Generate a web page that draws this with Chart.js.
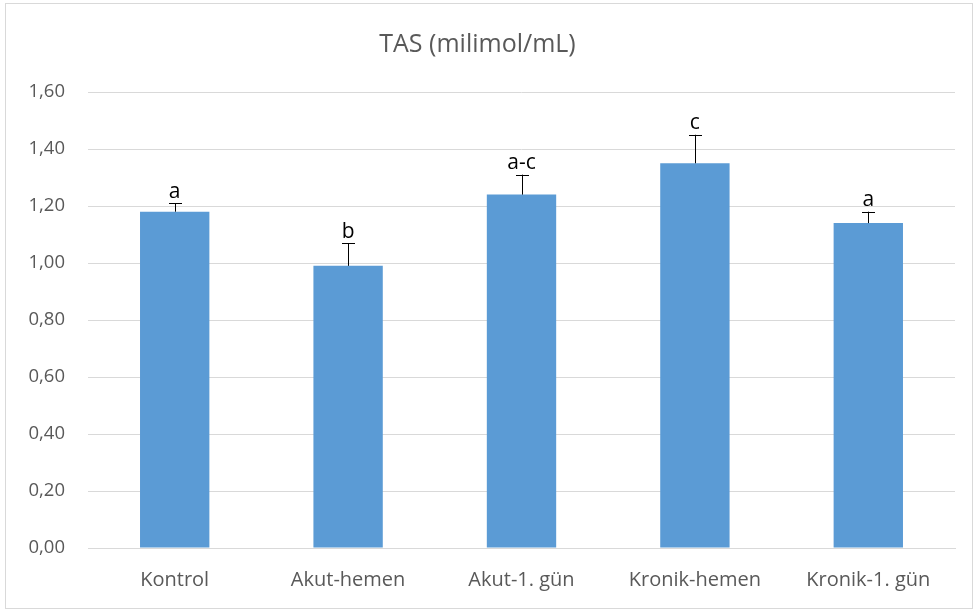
<!DOCTYPE html>
<html lang="tr">
  <head>
    <meta charset="UTF-8" />
    <title>TAS (milimol/mL)</title>
    <script src="https://cdn.jsdelivr.net/npm/chart.js@4.4.1/dist/chart.umd.min.js"></script>
    <style>
      html, body { margin: 0; padding: 0; background: #fff; }
      #wrap { width: 974px; height: 610px; }
    </style>
  </head>
  <body>
    <div id="wrap"><canvas id="myChart" width="974" height="610"></canvas></div>

    <script>
      // data
      const groups = ["Kontrol", "Akut-hemen", "Akut-1. gün", "Kronik-hemen", "Kronik-1. gün"];
      const tasMeans = [1.18, 0.99, 1.24, 1.35, 1.14];
      const tasErrors = [0.03, 0.08, 0.07, 0.10, 0.04];
      const sigLetters = ["a", "b", "a-c", "c", "a"];

      const fontFamily = "'Open Sans', 'Noto Sans', sans-serif";

      // error bars (upper only) and letters above them
      const errorBarPlugin = {
        id: "errorBars",
        afterDatasetsDraw(chart) {
          const ctx = chart.ctx;
          const y = chart.scales.y;
          const meta = chart.getDatasetMeta(0);
          ctx.save();
          meta.data.forEach((bar, i) => {
            const top = y.getPixelForValue(tasMeans[i] + tasErrors[i]);
            const base = y.getPixelForValue(tasMeans[i]);
            ctx.strokeStyle = "#000";
            ctx.lineWidth = 1;
            ctx.beginPath();
            ctx.moveTo(Math.round(bar.x) + 0.5, base);
            ctx.lineTo(Math.round(bar.x) + 0.5, top);
            ctx.moveTo(Math.round(bar.x) - 6, Math.round(top) + 0.5);
            ctx.lineTo(Math.round(bar.x) + 7, Math.round(top) + 0.5);
            ctx.stroke();
            ctx.fillStyle = "#000";
            ctx.font = "21px " + fontFamily;
            ctx.textAlign = "center";
            ctx.textBaseline = "bottom";
            ctx.fillText(sigLetters[i], bar.x, top - 1);
          });
          ctx.restore();
        },
        afterDraw(chart) {
          const ctx = chart.ctx;
          ctx.save();
          ctx.strokeStyle = "#d9d9d9";
          ctx.lineWidth = 1;
          ctx.strokeRect(5.5, 3.5, 967, 605);
          ctx.restore();
        }
      };

      const ctx = document.getElementById("myChart").getContext("2d");
      new Chart(ctx, {
        type: "bar",
        data: {
          labels: groups,
          datasets: [
            {
              label: "TAS",
              data: tasMeans,
              backgroundColor: "#5B9BD5",
              borderWidth: 0,
              barPercentage: 0.4,
              categoryPercentage: 1.0
            }
          ]
        },
        options: {
          responsive: false,
          animation: false,
          layout: { padding: { left: 0, right: 19, top: 0, bottom: 0 } },
          plugins: {
            legend: { display: false },
            tooltip: { enabled: false },
            title: {
              display: true,
              text: "TAS (milimol/mL)",
              color: "#595959",
              font: { family: fontFamily, size: 25, weight: "normal" },
              padding: { top: 30, bottom: 32 }
            }
          },
          scales: {
            x: {
              grid: { display: false, drawTicks: false },
              border: { display: true, color: "#d9d9d9", width: 1 },
              ticks: {
                color: "#595959",
                font: { family: fontFamily, size: 20 },
                padding: 20
              },
              afterFit(scale) { scale.height = 62; }
            },
            y: {
              min: 0,
              max: 1.6,
              grid: { color: "#d9d9d9", drawTicks: false },
              border: { display: false },
              ticks: {
                stepSize: 0.2,
                color: "#595959",
                font: { family: fontFamily, size: 18.5 },
                padding: 23,
                callback: (v) => v.toFixed(2).replace(".", ",")
              },
              afterFit(scale) { scale.width = 88; }
            }
          }
        },
        plugins: [errorBarPlugin]
      });
    </script>
  </body>
</html>
